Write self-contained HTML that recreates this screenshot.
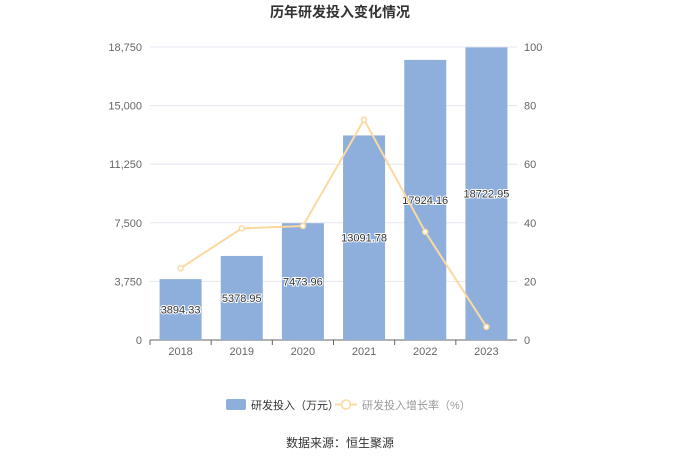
<!DOCTYPE html>
<html><head><meta charset="utf-8"><style>
body{margin:0;background:#fff;font-family:"Liberation Sans","Noto Sans CJK SC",sans-serif;}
svg text{font-family:"Liberation Sans","Noto Sans CJK SC",sans-serif;}
</style></head><body>
<svg id="chart" width="680" height="460" xmlns="http://www.w3.org/2000/svg">
<text x="340" y="17" text-anchor="middle" font-size="14" font-weight="bold" fill="#333">历年研发投入变化情况</text>
<g id="grid"></g><g id="bars"></g><g id="line"></g><g id="axes"></g>
<g>
<rect x="226" y="399" width="20" height="11" rx="2" fill="#8eaedb"/>
<text x="251" y="409" font-size="11" fill="#333">研发投入（万元）</text>
<line x1="335" y1="404.5" x2="357" y2="404.5" stroke="#fbd9a0" stroke-width="2"/>
<circle cx="346" cy="404.5" r="4.5" fill="#fff" stroke="#fbd9a0" stroke-width="1.5"/>
<text x="362" y="409" font-size="11" fill="#999">研发投入增长率（%）</text>
</g>
<text x="340" y="447" text-anchor="middle" font-size="12" fill="#333">数据来源：恒生聚源</text>
</svg>
<script>
const categories=["2018","2019","2020","2021","2022","2023"];
const investment=[3894.33,5378.95,7473.96,13091.78,17924.16,18722.95];
const growth=[24.5,38.1,38.9,75.2,36.9,4.5];
const leftTicks=["0","3,750","7,500","11,250","15,000","18,750"];
const leftTickValues=[0,3750,7500,11250,15000,18750];
const rightTicks=[0,20,40,60,80,100];
const NS="http://www.w3.org/2000/svg";
const X0=150,X1=517,Y0=340,Y1=47;
const band=(X1-X0)/categories.length;
const xc=i=>X0+band*(i+0.5);
const yl=v=>Y0-(v/18750)*(Y0-Y1);
const yr=v=>Y0-(v/100)*(Y0-Y1);
function mk(tag,attrs,parent,txt){const e=document.createElementNS(NS,tag);for(const k in attrs)e.setAttribute(k,attrs[k]);if(txt!==undefined)e.textContent=txt;document.getElementById(parent).appendChild(e);return e;}
leftTickValues.forEach((v,i)=>{
 const g=mk('line',{x1:X0,x2:X1,y1:yl(v),y2:yl(v),stroke:i==0?'#666':'#e6e6f0','stroke-width':1},'grid');
 
 
 const t=mk('text',{x:X0-8,y:yl(v)+4,'text-anchor':'end','font-size':11,fill:'#666'},'axes',leftTicks[i]);
 
 
});
rightTicks.forEach(v=>{
 const t=mk('text',{x:X1+7,y:yr(v)+4,'font-size':11,fill:'#666'},'axes',String(v));
 
 
});
categories.forEach((c,i)=>{
 const t=mk('text',{x:xc(i),y:Y0+15,'text-anchor':'middle','font-size':11,fill:'#666'},'axes',c);
 
 
 const tk=mk('line',{x1:X0+band*i,x2:X0+band*i,y1:Y0,y2:Y0+5,stroke:'#666'},'axes');
 
 
 const bw=42,v=investment[i];
 const b=mk('rect',{x:xc(i)-bw/2,y:yl(v),width:bw,height:Y0-yl(v),fill:'#8eaedb'},'bars');
 
 
 const ly=Math.min((yl(v)+Y0)/2, Y0-30)+4;
 const l=mk('text',{x:xc(i),y:(yl(v)+Y0)/2+4,'text-anchor':'middle','font-size':11,fill:'#333',stroke:'#fff','stroke-width':2,'paint-order':'stroke'},'bars',v.toFixed(2));
 
 
});
const pts=growth.map((g,i)=>xc(i)+','+yr(g)).join(' ');
const pl=mk('polyline',{points:pts,fill:'none',stroke:'#fbd9a0','stroke-width':2},'line');


growth.forEach((g,i)=>{
 const p=mk('circle',{cx:xc(i),cy:yr(g),r:2.5,fill:'#fff',stroke:'#fbd9a0','stroke-width':1.5},'line');
 
 
});
</script>
</body></html>
